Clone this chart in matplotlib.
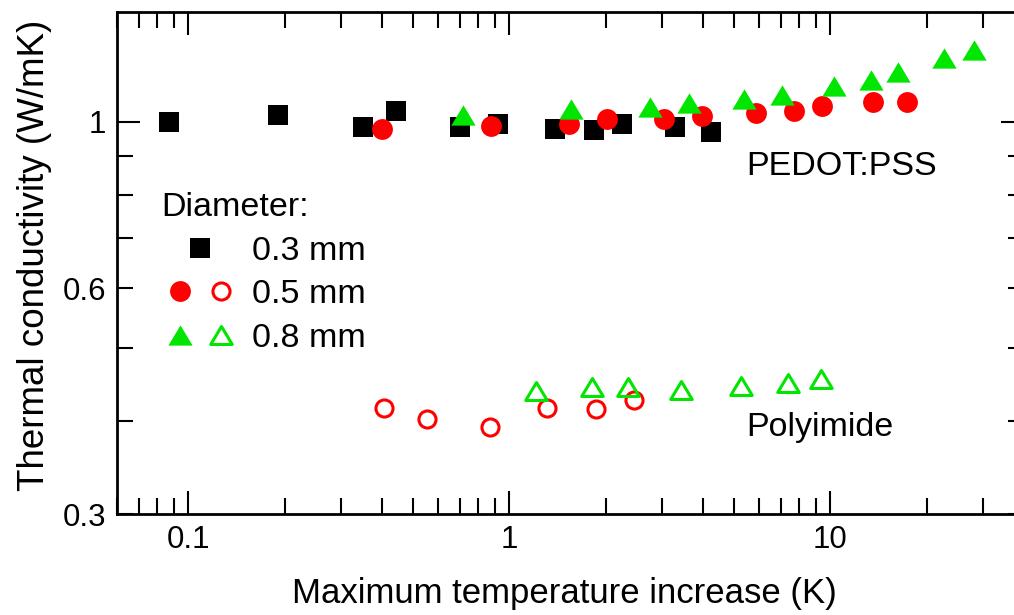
import numpy as np
import matplotlib
matplotlib.use('Agg')
import matplotlib.pyplot as plt
from matplotlib.lines import Line2D
from matplotlib.path import Path
from matplotlib.legend_handler import HandlerTuple

plt.rcParams['font.family'] = ['Liberation Sans', 'DejaVu Sans']

# PEDOT:PSS, filled symbols
dt_03 = [0.087, 0.19, 0.35, 0.445, 0.70, 0.925, 1.39, 1.84, 2.24, 3.28, 4.24]
k_03 = [1.000, 1.021, 0.985, 1.033, 0.985, 0.995, 0.978, 0.975, 0.993, 0.985, 0.970]

dt_05 = [0.40, 0.88, 1.535, 2.015, 3.03, 3.99, 5.89, 7.72, 9.44, 13.6, 17.3]
k_05 = [0.978, 0.987, 0.993, 1.010, 1.008, 1.018, 1.029, 1.034, 1.049, 1.063, 1.063]

dt_08 = [0.72, 1.56, 2.74, 3.63, 5.40, 7.08, 10.3, 13.4, 16.2, 22.6, 28.1]
k_08 = [1.023, 1.039, 1.047, 1.060, 1.073, 1.085, 1.115, 1.139, 1.164, 1.216, 1.247]

# Polyimide, open symbols
dt_05p = [0.408, 0.555, 0.873, 1.307, 1.862, 2.45]
k_05p = [0.4157, 0.4018, 0.3923, 0.416, 0.4145, 0.426]

dt_08p = [1.21, 1.805, 2.35, 3.43, 5.29, 7.40, 9.35]
k_08p = [0.438, 0.444, 0.444, 0.439, 0.445, 0.449, 0.454]

xticks = [0.1, 1, 10]
xticklabels = ['0.1', '1', '10']
yminor = [0.3, 0.4, 0.5, 0.6, 0.7, 0.8, 0.9]
yminorlabels = ['0.3', '', '', '0.6', '', '', '']

red = '#ff0000'
green = '#00e600'
# slightly wide triangle, closed so the open version gets all three sides
tri = Path([(-1.2, -1), (1.2, -1), (0, 1), (-1.2, -1)], closed=True)

fig = plt.figure(figsize=(10.14, 6.15), dpi=100)
ax = fig.add_axes([0.1154, 0.1636, 0.894, 0.8164])

ax.plot(dt_03, k_03, ls='none', marker='s', ms=13.7, color='k', mew=0)
ax.plot(dt_05, k_05, ls='none', marker='o', ms=15, color=red, mew=0)
ax.plot(dt_08, k_08, ls='none', marker=tri, ms=17.5, color=green, mew=0)
ax.plot(dt_05p, k_05p, ls='none', marker='o', ms=12.3, mfc='none', mec=red, mew=2.2)
ax.plot(dt_08p, k_08p, ls='none', marker=tri, ms=15.5, mfc='none', mec=green, mew=2.2)

ax.set_xscale('log')
ax.set_yscale('log')
ax.set_xlim(0.06, 40)
ax.set_ylim(0.3, 1.4)

ax.set_xticks(xticks, labels=xticklabels)
ax.xaxis.set_minor_formatter(matplotlib.ticker.NullFormatter())
ax.set_yticks([1], labels=['1'])
ax.set_yticks(yminor, labels=yminorlabels, minor=True)

ax.tick_params(which='both', direction='in', top=True, right=True,
               width=1.5, labelsize=22.5)
ax.tick_params(which='major', length=16.8, pad=8)
ax.tick_params(which='minor', length=11.3, pad=8)
for s in ax.spines.values():
    s.set_linewidth(2)

ax.set_xlabel('Maximum temperature increase (K)', fontsize=25)
ax.set_ylabel('Thermal conductivity (W/mK)', fontsize=26.5)
ax.xaxis.set_label_coords(0.494, -0.125)
ax.yaxis.set_label_coords(-0.072, 0.515)

ax.text(5.47, 0.849, 'PEDOT:PSS', fontsize=24.5)
ax.text(5.47, 0.3815, 'Polyimide', fontsize=24.5)

h03 = Line2D([], [], ls='none', marker='s', ms=13.7, color='k', mew=0)
h05f = Line2D([], [], ls='none', marker='o', ms=15, color=red, mew=0)
h05o = Line2D([], [], ls='none', marker='o', ms=12.3, mfc='none', mec=red, mew=2.2)
h08f = Line2D([], [], ls='none', marker=tri, ms=17.5, color=green, mew=0)
h08o = Line2D([], [], ls='none', marker=tri, ms=15.5, mfc='none', mec=green, mew=2.2)

ax.legend([h03, (h05f, h05o), (h08f, h08o)], ['0.3 mm', '0.5 mm', '0.8 mm'],
          handler_map={tuple: HandlerTuple(ndivide=None, pad=0.077)},
          title='Diameter:', title_fontsize=24.5, fontsize=24.5,
          frameon=False, loc='upper left', bbox_to_anchor=(0.0493, 0.642),
          borderpad=0, borderaxespad=0, handlelength=2.28, handletextpad=0.36,
          labelspacing=0.37, alignment='left')

fig.savefig('out.png', dpi=100)
